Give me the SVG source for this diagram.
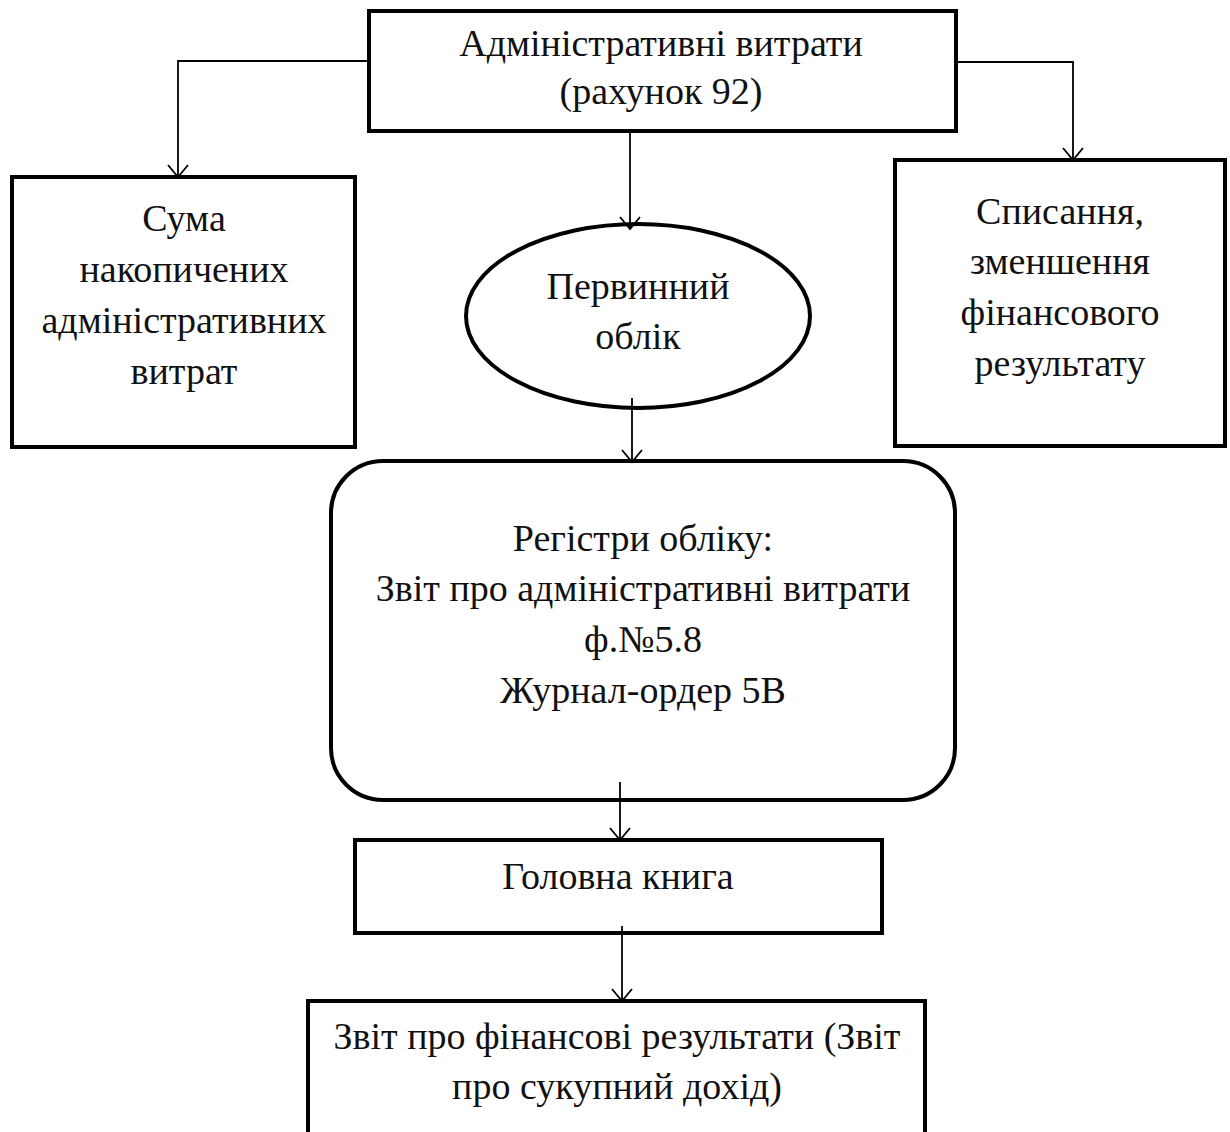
<svg xmlns="http://www.w3.org/2000/svg" width="1230" height="1132" viewBox="0 0 1230 1132">
<style>
.box{fill:#fff;stroke:#000;stroke-width:4}
.t{font-family:'Liberation Serif','Times New Roman','DejaVu Serif',serif;font-size:38px;fill:#111;text-anchor:middle}
.c{fill:none;stroke:#000;stroke-width:1.8}
</style>
<defs>
<marker id="ah" markerWidth="24" markerHeight="24" refX="14" refY="12" markerUnits="userSpaceOnUse" orient="auto" viewBox="0 0 24 24">
<path d="M2 2 L14 12 L2 22" fill="none" stroke="#000" stroke-width="1.8"/>
</marker>
</defs>
<rect width="1230" height="1132" fill="#fff"/>
<g id="n_admin">
<rect class="box" x="369" y="11" width="587" height="120"/>
<text class="t" x="661" y="56">Адміністративні витрати</text>
<text class="t" x="661" y="104">(рахунок 92)</text>
</g>
<g id="n_suma">
<rect class="box" x="12" y="177" width="343" height="270"/>
<text class="t" x="184" y="231">Сума</text>
<text class="t" x="184" y="282">накопичених</text>
<text class="t" x="184" y="333">адміністративних</text>
<text class="t" x="184" y="384">витрат</text>
</g>
<g id="n_spys">
<rect class="box" x="895" y="160" width="330" height="286"/>
<text class="t" x="1060" y="224">Списання,</text>
<text class="t" x="1060" y="274">зменшення</text>
<text class="t" x="1060" y="325">фінансового</text>
<text class="t" x="1060" y="376">результату</text>
</g>
<g id="n_pervyn">
<ellipse class="box" cx="638" cy="316" rx="172" ry="92"/>
<text class="t" x="638" y="299">Первинний</text>
<text class="t" x="638" y="349">облік</text>
</g>
<g id="n_registry">
<rect class="box" x="331" y="461" width="624" height="339" rx="52" ry="52"/>
<text class="t" x="643" y="551">Регістри обліку:</text>
<text class="t" x="643" y="601">Звіт про адміністративні витрати</text>
<text class="t" x="643" y="652">ф.№5.8</text>
<text class="t" x="643" y="703">Журнал-ордер 5В</text>
</g>
<g id="n_golovna">
<rect class="box" x="355" y="840" width="527" height="93"/>
<text class="t" x="618" y="889">Головна книга</text>
</g>
<g id="n_zvit">
<rect class="box" x="308" y="1001" width="617" height="140"/>
<text class="t" x="617" y="1049">Звіт про фінансові результати (Звіт</text>
<text class="t" x="617" y="1099">про сукупний дохід)</text>
</g>
<g id="connectors">
<polyline class="c" points="367,61 178,61 178,177" marker-end="url(#ah)"/>
<polyline class="c" points="958,62 1073,62 1073,160" marker-end="url(#ah)"/>
<line class="c" x1="630" y1="133" x2="630" y2="229" marker-end="url(#ah)"/>
<line class="c" x1="632" y1="398" x2="632" y2="462" marker-end="url(#ah)"/>
<line class="c" x1="620" y1="782" x2="620" y2="840" marker-end="url(#ah)"/>
<line class="c" x1="622" y1="926" x2="622" y2="1001" marker-end="url(#ah)"/>
</g>
</svg>
